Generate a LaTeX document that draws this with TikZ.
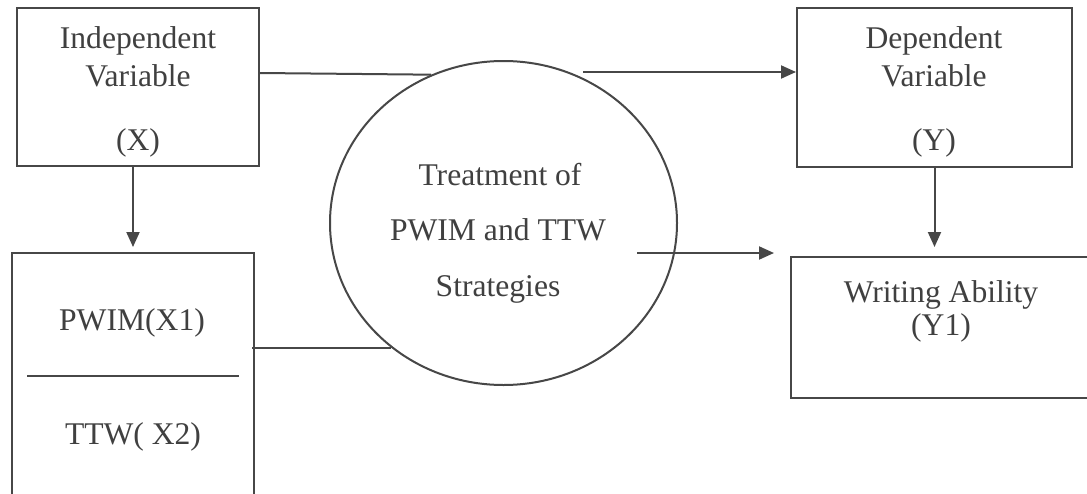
\documentclass[tikz,border=0pt]{standalone}
\usepackage{fontspec}
\setmainfont{Liberation Serif}
\usetikzlibrary{shapes.geometric,arrows.meta,calc}
\definecolor{ink}{HTML}{474747}
\definecolor{txt}{HTML}{404040}
\begin{document}
\begin{tikzpicture}[x=1pt,y=1pt,
  box/.style={draw=ink,line width=2pt,inner sep=0pt,rectangle},
  lbl/.style={text=txt,font=\fontsize{31.6}{38}\selectfont,anchor=base,inner sep=0pt},
  conn/.style={draw=ink,line width=2pt},
  arr/.style={conn,-{Triangle[length=15pt,width=13pt]}}]
\useasboundingbox (0,0) rectangle (1087,-493);
\fill[white] (0,0) rectangle (1087,-493);
% boxes
\node[box,minimum width=242pt,minimum height=158pt] (bx) at (138,-87) {};
\node[box,minimum width=275pt,minimum height=159pt] (by) at (934.5,-87.5) {};
\node[box,minimum width=242pt,minimum height=257pt] (bp) at (133,-381.5) {};
\node[box,minimum width=300pt,minimum height=141pt] (bw) at (941,-327.5) {};
\node[draw=ink,line width=2pt,ellipse,inner sep=0pt,minimum width=347pt,minimum height=324pt] (circ) at (503.5,-223) {};
% texts
\node[lbl] (t1) at (138,-48) {Independent};
\node[lbl] (t2) at (138,-86) {Variable};
\node[lbl] (t3) at (138,-150) {(X)};
\node[lbl] (t4) at (934,-48) {Dependent};
\node[lbl] (t5) at (934,-86) {Variable};
\node[lbl] (t6) at (934,-150) {(Y)};
\node[lbl] (t7) at (132,-330) {PWIM(X1)};
\node[lbl] (t8) at (133,-444) {TTW( X2)};
\node[lbl] (t9) at (500,-185) {Treatment of};
\node[lbl] (t10) at (498,-240) {PWIM and TTW};
\node[lbl] (t11) at (498,-296) {Strategies};
\node[lbl] (t12) at (941,-302) {Writing Ability};
\node[lbl] (t13) at (941,-335) {(Y1)};
% divider
\draw[conn] ($(bp.north west)+(16,-124)$) -- ($(bp.north east)+(-16,-124)$);
% connectors
\coordinate (s2) at (583,-72);
\coordinate (s3) at (637,-253);
\draw[arr] (bx.south -| bp.north) -- ([yshift=5pt]bp.north);
\draw[arr] (by.south) -- ([yshift=9pt]by.south |- bw.north);
\draw[conn] ([yshift=14pt]bx.east) -- (circ.116);
\draw[arr] (s2) -- (s2 -| by.west);
\draw[conn] ([xshift=-3pt]circ.228 -| bp.east) -- (circ.228);
\draw[arr] (s3) -- ([xshift=-16pt]s3 -| bw.west);
\end{tikzpicture}
\end{document}
